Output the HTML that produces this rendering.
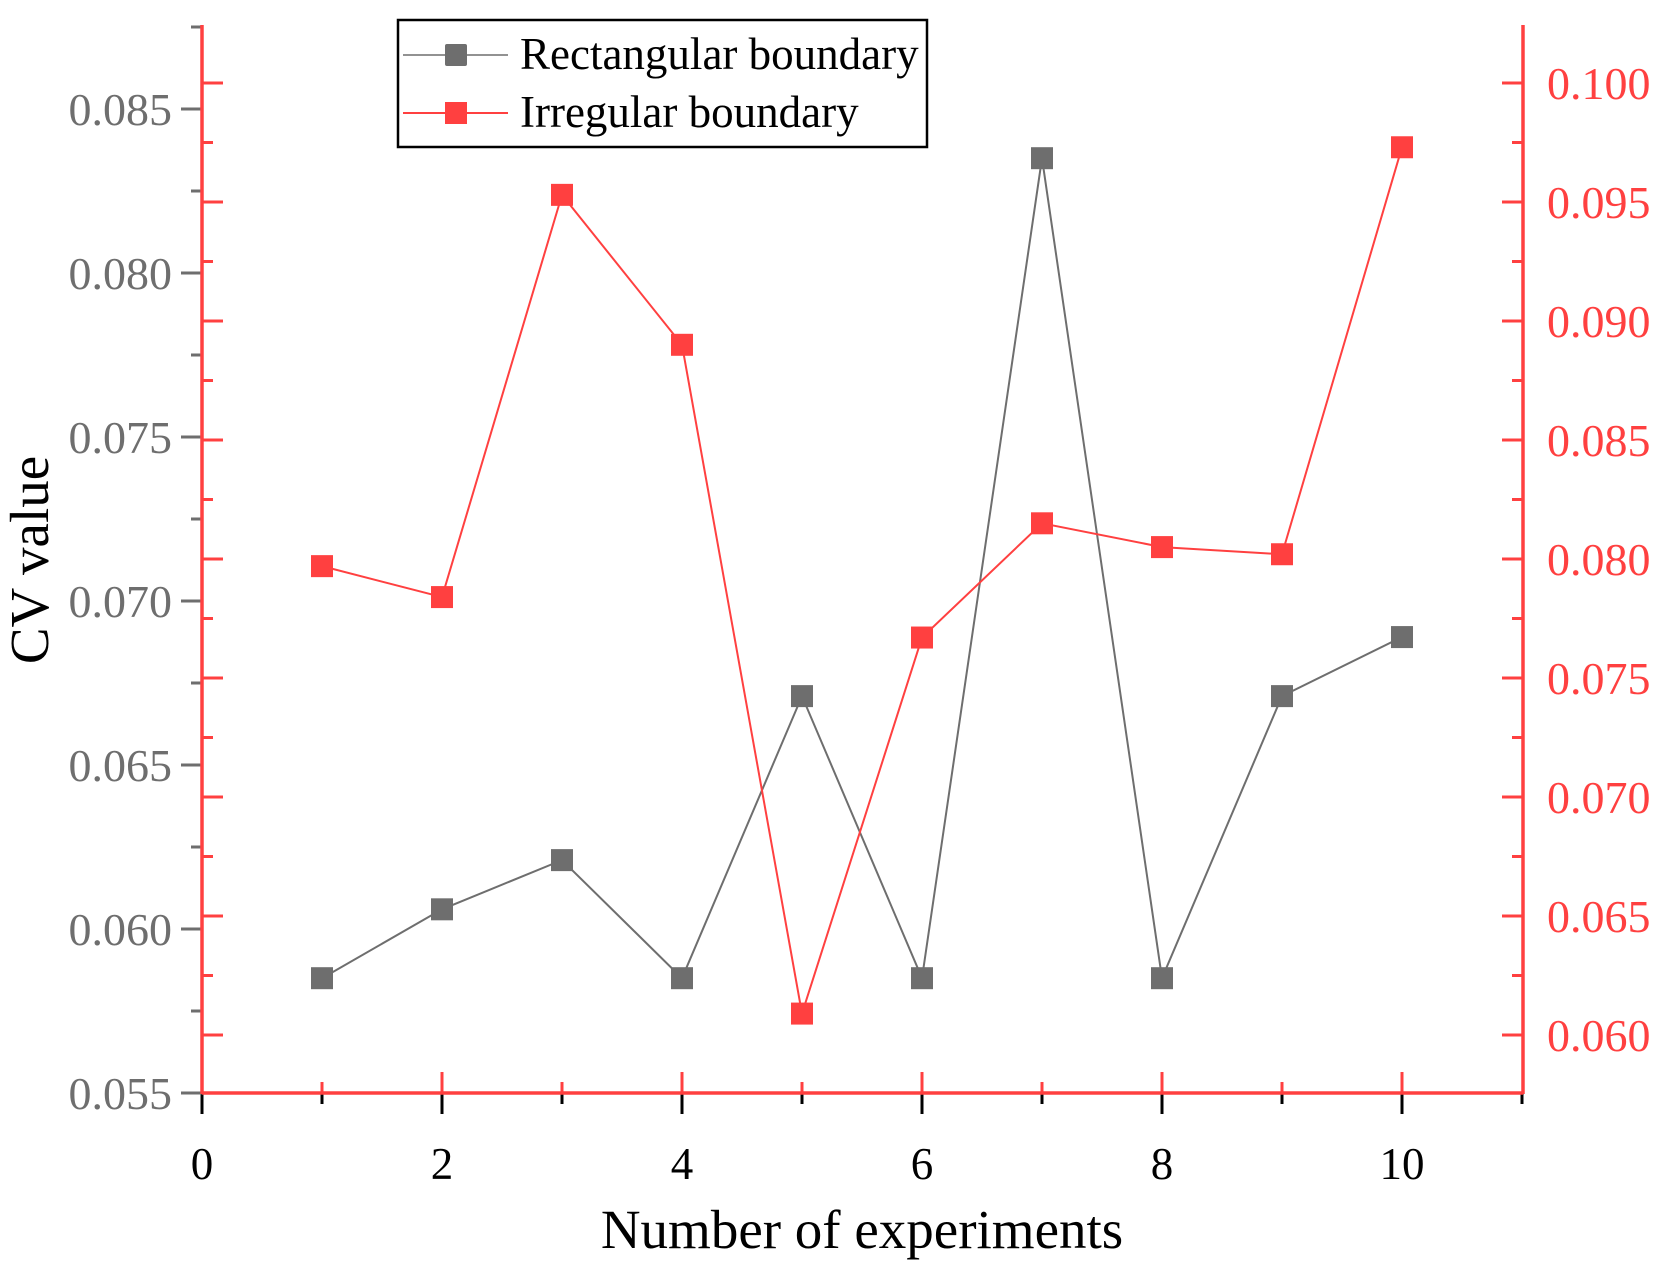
<!DOCTYPE html>
<html><head><meta charset="utf-8"><style>
html,body{margin:0;padding:0;background:#fff;}
svg{display:block;font-family:"Liberation Serif",serif;}
</style></head><body>
<svg id="chart" width="1661" height="1276" viewBox="0 0 1661 1276" xmlns="http://www.w3.org/2000/svg">
<g id="axes"></g>
<g id="series"></g>
<g id="legend">
  <rect x="398" y="20" width="529" height="127" fill="#fff" stroke="#000" stroke-width="2.5"/>
  <g>
    <line x1="403" y1="55" x2="508" y2="55" stroke="#6e6e6e" stroke-width="1.5"/>
    <rect x="445" y="44" width="22" height="22" rx="2" fill="#6e6e6e"/>
    <text x="520" y="69" font-size="45" fill="#000">Rectangular boundary</text>
  </g>
  <g>
    <line x1="403" y1="113" x2="508" y2="113" stroke="#ff4040" stroke-width="2"/>
    <rect x="445" y="102" width="22" height="22" fill="#ff4040"/>
    <text x="520" y="127" font-size="45" fill="#000">Irregular boundary</text>
  </g>
</g>
<text x="862" y="1248" font-size="55" text-anchor="middle" fill="#000">Number of experiments</text>
<text transform="translate(48,560) rotate(-90)" font-size="55" text-anchor="middle" fill="#000">CV value</text>
</svg>
<script>
const experiments = [1,2,3,4,5,6,7,8,9,10];
const rectValues = [0.0585,0.0606,0.0621,0.0585,0.0671,0.0585,0.0835,0.0585,0.0671,0.0689];
const irregValues = [0.0797,0.0784,0.0953,0.0890,0.0609,0.0767,0.0815,0.0805,0.0802,0.0973];
const xTicks = [0,2,4,6,8,10];
const leftTicks = ["0.055","0.060","0.065","0.070","0.075","0.080","0.085"];
const rightTicks = ["0.060","0.065","0.070","0.075","0.080","0.085","0.090","0.095","0.100"];

const NS = "http://www.w3.org/2000/svg";
const GRAY = "#6e6e6e", RED = "#ff4040";
const X0 = 202, Y0 = 1093, TOP = 25, RIGHT = 1523;
const xs = v => X0 + v * 120;
const yl = v => Y0 - (v - 0.055) * 32800;
const yr = v => 1035 - (v - 0.060) * 23800;
function mk(tag, attrs, parent) {
  const e = document.createElementNS(NS, tag);
  for (const k in attrs) e.setAttribute(k, attrs[k]);
  parent.appendChild(e);
  return e;
}
const axes = document.getElementById("axes");
const series = document.getElementById("series");

for (let v = 0; v <= 11; v++) {
  const major = v % 2 === 0;
  const t = mk("line", {x1: xs(v), x2: xs(v), y1: Y0, y2: Y0 + (major ? 21 : 11), stroke: "#000", "stroke-width": 3}, axes);
  
  
  if (v > 0 && v < 11) {
    const r = mk("line", {x1: xs(v), x2: xs(v), y1: Y0, y2: Y0 - (major ? 21 : 11), stroke: RED, "stroke-width": 3}, axes);
    
    
  }
}
xTicks.forEach(v => {
  const t = mk("text", {x: xs(v), y: 1179, "font-size": 45, "text-anchor": "middle", fill: "#000"}, axes);
  t.textContent = v;
  
  
});
for (let i = 0; i <= 13; i++) {
  const v = 0.055 + i * 0.0025;
  const major = i % 2 === 0;
  const t = mk("line", {x1: X0, x2: X0 - (major ? 21 : 11), y1: yl(v), y2: yl(v), stroke: GRAY, "stroke-width": 3}, axes);
  
  
}
leftTicks.forEach(s => {
  const t = mk("text", {x: 172, y: yl(parseFloat(s)) + 16, "font-size": 46, "text-anchor": "end", fill: GRAY}, axes);
  t.textContent = s;
  
  
});
for (let i = 0; i <= 17; i++) {
  const v = 0.0575 + i * 0.0025;
  const y = yr(v);
  if (y < TOP || y > Y0) continue;
  const major = i % 2 === 1;
  const len = major ? 21 : 11;
  const a = mk("line", {x1: RIGHT, x2: RIGHT - len, y1: y, y2: y, stroke: RED, "stroke-width": 3}, axes);
  
  
  const b = mk("line", {x1: X0, x2: X0 + len, y1: y, y2: y, stroke: RED, "stroke-width": 3}, axes);
  
  
}
rightTicks.forEach(s => {
  const t = mk("text", {x: 1547, y: yr(parseFloat(s)) + 16, "font-size": 46, fill: RED}, axes);
  t.textContent = s;
  
  
});
const ls = mk("line", {x1: X0, x2: X0, y1: TOP, y2: Y0 + 1, stroke: RED, "stroke-width": 3.5}, axes);


const rs = mk("line", {x1: RIGHT, x2: RIGHT, y1: TOP, y2: Y0 + 1, stroke: RED, "stroke-width": 3.5}, axes);


const bs = mk("line", {x1: X0, x2: RIGHT, y1: Y0, y2: Y0, stroke: RED, "stroke-width": 3.5}, axes);



function drawSeries(vals, yf, color, name, w) {
  const pts = experiments.map((x, i) => xs(x) + "," + yf(vals[i])).join(" ");
  const l = mk("polyline", {points: pts, fill: "none", stroke: color, "stroke-width": w}, series);
  
  
  experiments.forEach((x, i) => {
    const r = mk("rect", {x: xs(x) - 11, y: yf(vals[i]) - 11, width: 22, height: 22, fill: color}, series);
    
    
  });
}
drawSeries(rectValues, yl, GRAY, 'rectangular', 2);
drawSeries(irregValues, yr, RED, 'irregular', 2);
</script>
</body></html>
